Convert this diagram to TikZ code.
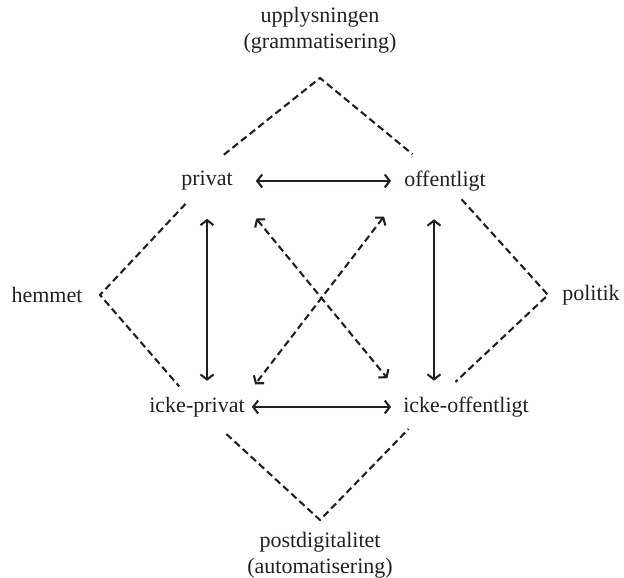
\documentclass[tikz,border=0pt]{standalone}
\usepackage{fontspec}
\setmainfont{Liberation Serif}
\usetikzlibrary{arrows.meta,positioning,calc}
\definecolor{ink}{RGB}{35,31,32}

\begin{document}
\begin{tikzpicture}[x=1pt, y=1pt,
    lbl/.style={font=\fontsize{22}{26}\selectfont, text=ink, inner sep=3pt, align=center},
    dline/.style={draw=ink, line width=2.1pt, dash pattern=on 7pt off 4pt},
    arr/.style={draw=ink, line width=2.1pt, {Straight Barb[length=5pt,width=13pt]}-{Straight Barb[length=5pt,width=13pt]}},
    darr/.style={arr, dash pattern=on 7pt off 4pt}]
    \useasboundingbox (0,0) rectangle (624,578);
    % the square of four positions
    \node[lbl] (privat) at (207,397) {privat};
    \node[lbl] (offentligt) at (445,397) {offentligt};
    \node[lbl] (ickepriv) at (197,171) {icke-privat};
    \node[lbl] (ickeoff) at (466,171) {icke-offentligt};
    % outer labels
    \node[lbl] (upplys) at (320,548) {upplysningen\\(grammatisering)};
    \node[lbl] (postdig) at (320,22.5) {postdigitalitet\\(automatisering)};
    \node[lbl] (hemmet) at (47,283) {hemmet};
    \node[lbl] (politik) at (591,283) {politik};
    \coordinate (ntop) at (320,500);
    \coordinate (nleft) at (100,283);
    \coordinate (nright) at (548,283);
    \coordinate (nbottom) at (320,58);
    % dashed diamonds
    \draw[dline] ($(ntop)!123pt!(privat.north)$) -- (ntop) -- ($(ntop)!120pt!(offentligt)$);
    \draw[dline] ($(nleft)!125pt!(privat)$) -- (nleft) -- ($(nleft)!121pt!(ickepriv)$);
    \draw[dline] ($(nright)!129pt!(offentligt)$) -- (nright) -- ($(nright)!127pt!(ickeoff.150)$);
    \draw[dline] ($(nbottom)!127pt!(ickepriv)$) -- (nbottom) -- ($(nbottom)!127pt!(ickeoff.150)$);
    % arrows
    \draw[arr, shorten <=20pt, shorten >=10pt] (privat.east) -- (offentligt.west);
    \draw[arr, shorten <=4pt, shorten >=9pt] (ickepriv.east) -- (ickeoff.west);
    \draw[arr, shorten <=25pt, shorten >=13pt] (privat.south) -- (privat.south |- ickepriv.north);
    \draw[arr, shorten <=25pt, shorten >=13pt] ([xshift=-11pt]offentligt.south) -- ([xshift=-11pt]offentligt.south |- ickeoff.north);
    \draw[darr, shorten <=32pt, shorten >=20pt] (privat.south east) -- (ickeoff.north west);
    \draw[darr, shorten <=28pt, shorten >=12pt] (offentligt.south west) -- (ickepriv.north east);
\end{tikzpicture}
\end{document}
